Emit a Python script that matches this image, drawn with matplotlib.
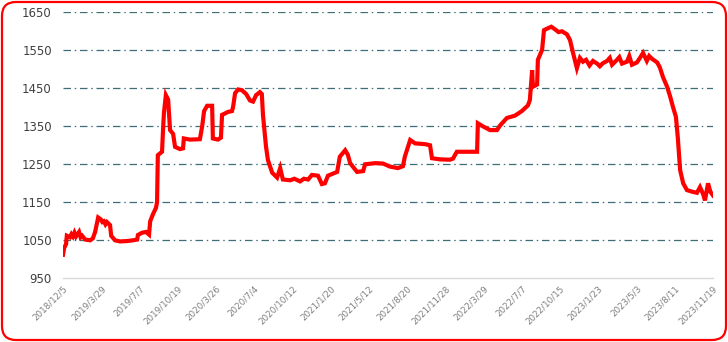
import matplotlib
matplotlib.use("Agg")
import matplotlib.pyplot as plt
from matplotlib.patches import FancyBboxPatch

# trading-day index (tick label every 10 positions) and price
day_idx = [0, 0.3, 0.8, 1.0, 1.8, 2.2, 2.6, 3.0, 3.4, 4.2, 4.6, 5.0, 5.8, 7.1, 7.8, 8.4,
           9.2, 9.9, 10.3, 10.7, 11.1, 11.5, 12.3, 12.6, 13.6, 14.9, 16.7, 18.3, 19.4,
           19.6, 20.7, 21.7, 22.5, 22.8, 23.5, 24.3, 24.6, 24.8, 25.9, 26.2, 26.4,
           26.9, 27.5, 28.0, 28.8, 29.3, 30.6, 31.4, 31.6, 33.2, 35.8, 36.4, 36.9,
           37.7, 39.0, 39.2, 40.5, 41.3, 41.6, 43.2, 44.2, 44.5, 45.0, 45.8, 46.8,
           47.9, 48.9, 49.7, 50.5, 51.5, 52.0, 52.3, 53.1, 53.6, 54.7, 56.0, 56.8,
           57.5, 59.4, 60.5, 62.0, 63.0, 64.1, 65.1, 66.7, 67.7, 68.5, 69.3, 71.7,
           72.4, 73.8, 74.5, 75.1, 76.9, 78.5, 79.0, 81.6, 83.7, 85.5, 87.6, 88.9,
           89.4, 90.8, 92.1, 94.7, 96.0, 96.5, 98.6, 101.2, 102.0, 103.0, 105.1,
           108.3, 108.5, 109.8, 111.7, 113.5, 114.3, 116.1, 118.2, 120.0, 121.6,
           122.1, 122.7, 122.9, 124.0, 124.2, 125.3, 125.8, 126.8, 127.7, 128.7,
           129.6, 130.5, 131.8, 132.6, 133.4, 134.4, 135.2, 136.0, 136.8, 137.7,
           138.6, 139.7, 140.4, 141.2, 142.3, 143.0, 143.6, 144.9, 145.5, 146.2,
           147.5, 148.1, 148.8, 150.1, 150.9, 151.7, 152.7, 153.3, 154.0, 155.4,
           156.1, 156.9, 158.0, 158.8, 159.5, 160.3, 160.8, 161.4, 162.2, 163.2,
           164.5, 165.8, 166.6, 167.4, 167.9, 168.7, 169.3, 170.0]
price = [1012, 1030, 1040, 1062, 1058, 1066, 1060, 1070, 1060, 1072, 1058, 1062, 1052,
         1050, 1055, 1072, 1110, 1105, 1098, 1100, 1092, 1098, 1090, 1062, 1050, 1047,
         1048, 1050, 1052, 1064, 1070, 1072, 1065, 1100, 1118, 1135, 1150, 1274, 1283,
         1349, 1385, 1432, 1420, 1340, 1330, 1296, 1290, 1292, 1318, 1315, 1316, 1350,
         1390, 1404, 1404, 1318, 1315, 1320, 1380, 1388, 1390, 1402, 1437, 1447, 1445,
         1435, 1418, 1415, 1432, 1440, 1435, 1380, 1296, 1261, 1228, 1215, 1240, 1210,
         1208, 1212, 1205, 1212, 1210, 1222, 1220, 1198, 1200, 1220, 1230, 1270, 1287,
         1275, 1253, 1230, 1232, 1250, 1253, 1252, 1244, 1240, 1245, 1270, 1314, 1305,
         1303, 1300, 1266, 1263, 1262, 1265, 1283, 1283, 1283, 1358, 1350, 1340, 1340,
         1352, 1372, 1378, 1390, 1405, 1419, 1498, 1454, 1460, 1525, 1551, 1603, 1608,
         1612, 1605, 1598, 1600, 1592, 1577, 1543, 1503, 1530, 1520, 1525, 1510, 1522,
         1515, 1508, 1516, 1522, 1530, 1512, 1525, 1532, 1515, 1520, 1535, 1512, 1518,
         1530, 1543, 1522, 1535, 1528, 1518, 1505, 1480, 1454, 1428, 1402, 1375, 1320,
         1235, 1200, 1182, 1178, 1175, 1190, 1172, 1155, 1200, 1178, 1168]

tick_labels = ["2018/12/5", "2019/3/29", "2019/7/7", "2019/10/19", "2020/3/26",
               "2020/7/4", "2020/10/12", "2021/1/20", "2021/5/12", "2021/8/20",
               "2021/11/28", "2022/3/29", "2022/7/7", "2022/10/15", "2023/1/23",
               "2023/5/3", "2023/8/11", "2023/11/19"]
y_ticks = [950, 1050, 1150, 1250, 1350, 1450, 1550, 1650]

W, H = 728, 342
fig = plt.figure(figsize=(W / 100, H / 100), dpi=100)

# rounded red frame
bg = fig.add_axes([0, 0, 1, 1])
bg.set_xlim(0, W)
bg.set_ylim(0, H)
bg.axis("off")
bg.add_patch(FancyBboxPatch((2, 2), W - 4, H - 4,
                            boxstyle="round,pad=0,rounding_size=14",
                            fill=False, edgecolor="#FF0000", linewidth=1.6))

ax = fig.add_axes([63 / W, 1 - 278.3 / H, 650 / W, 266 / H])
ax.set_zorder(2)
ax.patch.set_alpha(0)
ax.plot(day_idx, price, color="#FF0000", linewidth=3.0, solid_joinstyle="miter",
        zorder=3)

ax.set_xlim(0, 170)
ax.set_ylim(950, 1650)
ax.set_yticks(y_ticks)
ax.set_yticklabels([str(v) for v in y_ticks], fontsize=8.5, color="#404040")
ax.set_xticks(range(0, 171, 10))
ax.set_xticklabels(tick_labels, rotation=45, ha="right", rotation_mode="anchor",
                   fontsize=6.3, color="#7f7f7f")
ax.tick_params(axis="both", length=0)
ax.tick_params(axis="y", pad=8)
ax.tick_params(axis="x", pad=4)

for v in y_ticks[1:]:
    ax.axhline(v, color="#3e6e78", linewidth=0.9, linestyle=(0, (6, 3, 1.2, 3)),
               zorder=1)
for s in ["top", "right", "left"]:
    ax.spines[s].set_visible(False)
ax.spines["bottom"].set_color("#d9d9d9")
ax.spines["bottom"].set_linewidth(1.0)

fig.savefig("out.png", dpi=100)
